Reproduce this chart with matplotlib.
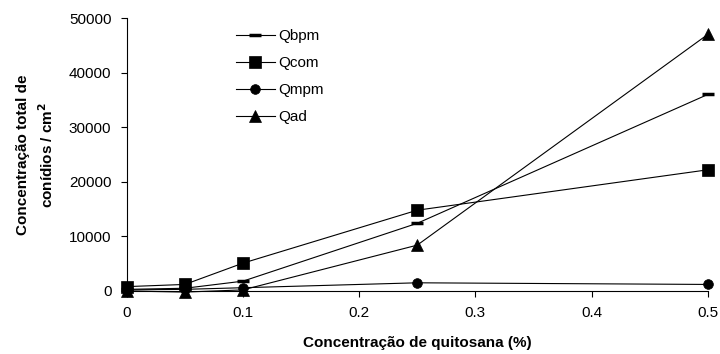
import matplotlib.pyplot as plt
import numpy as np

plt.rcParams['font.family'] = ['Liberation Sans', 'DejaVu Sans']

# chitosan concentration (%)
conc = [0, 0.05, 0.1, 0.25, 0.5]

# total conidia concentration per cm2
qbpm = [300, 500, 1800, 12400, 36000]
qcom = [800, 1200, 5100, 14800, 22200]
qmpm = [200, 300, 600, 1500, 1200]
qad = [0, -200, 200, 8400, 47000]

series = [("Qbpm", qbpm, "_", 9), ("Qcom", qcom, "s", 8),
          ("Qmpm", qmpm, "o", 7), ("Qad", qad, "^", 8)]

fig = plt.figure(figsize=(7.2, 3.54), dpi=100)
ax = fig.add_axes([0.176, 0.178, 0.807, 0.771])

for name, vals, mk, ms in series:
    ax.plot(conc, vals, color="black", lw=0.8, marker=mk, markersize=ms,
            markeredgewidth=2.5 if mk == "_" else 0.5, label=name, clip_on=False)

ax.set_xlim(0, 0.5)
ax.set_ylim(0, 50000)
ax.set_xticks(np.arange(0, 0.51, 0.1))
ax.set_xticklabels(["0", "0.1", "0.2", "0.3", "0.4", "0.5"])
ax.set_yticks(np.arange(0, 50001, 10000))
ax.spines["top"].set_visible(False)
ax.spines["right"].set_visible(False)
ax.tick_params(direction="out", length=4, labelsize=11, pad=7)

ax.set_xlabel("Concentração de quitosana (%)", fontsize=11, fontweight="bold", labelpad=11)
ax.set_ylabel("Concentração total de\nconídios / cm$^\\mathbf{2}$", fontsize=11,
              fontweight="bold", labelpad=9, linespacing=1.5)

ax.legend(loc="upper left", bbox_to_anchor=(0.165, 1.01), frameon=False, fontsize=11,
          handlelength=2.5, handletextpad=0.25, labelspacing=0.85)

fig.savefig("out.png", dpi=100)
